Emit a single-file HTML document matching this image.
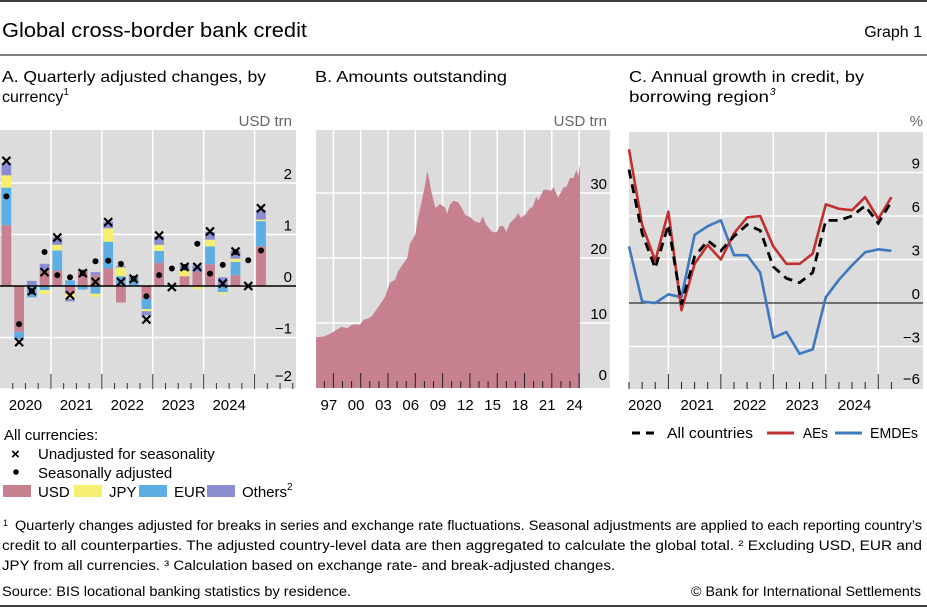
<!DOCTYPE html>
<html><head><meta charset="utf-8"><style>
html,body{margin:0;padding:0;background:#fff;}
svg{display:block;font-family:"Liberation Sans",sans-serif;}
</style></head><body>
<svg id="chart" width="927" height="608" viewBox="0 0 927 608">
<line x1="0" y1="1" x2="927" y2="1" stroke="#000" stroke-width="1.5"/>
<text x="2" y="37" font-size="20" textLength="305" lengthAdjust="spacingAndGlyphs">Global cross-border bank credit</text>
<text x="922" y="37" font-size="16" text-anchor="end">Graph 1</text>
<line x1="0" y1="55" x2="927" y2="55" stroke="#000" stroke-width="1"/>
<text x="2" y="82" font-size="16" textLength="264" lengthAdjust="spacingAndGlyphs">A. Quarterly adjusted changes, by</text>
<text x="2" y="102" font-size="16">currency<tspan font-size="10" dy="-7">1</tspan></text>
<text x="315" y="82" font-size="16" textLength="192" lengthAdjust="spacingAndGlyphs">B. Amounts outstanding</text>
<text x="629" y="82" font-size="16" textLength="235" lengthAdjust="spacingAndGlyphs">C. Annual growth in credit, by</text>
<text x="629" y="102" font-size="16" textLength="140" lengthAdjust="spacingAndGlyphs">borrowing region</text>
<text x="770" y="95" font-size="10" font-style="italic">3</text>
<text x="292" y="126" font-size="15" fill="#666" text-anchor="end">USD trn</text>
<text x="607" y="126" font-size="15" fill="#666" text-anchor="end">USD trn</text>
<text x="923" y="126" font-size="15" fill="#666" text-anchor="end">%</text>
<g id="pa"></g><g id="pb"></g><g id="pc"></g>
<!-- legend A -->
<text x="4" y="440" font-size="15">All currencies:</text>
<text x="11" y="459" font-size="15" font-weight="bold">×</text>
<text x="38" y="459" font-size="15">Unadjusted for seasonality</text>
<circle cx="16" cy="472" r="2.8" fill="#000"/>
<text x="38" y="478" font-size="15">Seasonally adjusted</text>
<rect x="3" y="485" width="28" height="12" fill="#c7808f"/>
<text x="38" y="497" font-size="15">USD</text>
<rect x="74" y="485" width="28" height="12" fill="#f6ee6e"/>
<text x="109" y="497" font-size="15">JPY</text>
<rect x="139" y="485" width="28" height="12" fill="#5eaee6"/>
<text x="174" y="497" font-size="15">EUR</text>
<rect x="207" y="485" width="28" height="12" fill="#8a8ed0"/>
<text x="242" y="497" font-size="15">Others<tspan font-size="10" dy="-7">2</tspan></text>
<!-- legend C -->
<line x1="632" y1="433" x2="660" y2="433" stroke="#000" stroke-width="3" stroke-dasharray="8,6"/>
<text x="667" y="438" font-size="15" textLength="86" lengthAdjust="spacingAndGlyphs">All countries</text>
<line x1="767" y1="433" x2="794" y2="433" stroke="#c0302f" stroke-width="3"/>
<text x="803" y="438" font-size="15" textLength="25" lengthAdjust="spacingAndGlyphs">AEs</text>
<line x1="835" y1="433" x2="862" y2="433" stroke="#3e78bf" stroke-width="3"/>
<text x="870" y="438" font-size="15" textLength="48" lengthAdjust="spacingAndGlyphs">EMDEs</text>
<!-- footnotes -->
<g font-size="13.5">
<text x="3" y="526" font-size="9">1</text>
<text x="15" y="530" textLength="907" lengthAdjust="spacingAndGlyphs">Quarterly changes adjusted for breaks in series and exchange rate fluctuations. Seasonal adjustments are applied to each reporting country’s</text>
<text x="2" y="550" textLength="920" lengthAdjust="spacingAndGlyphs">credit to all counterparties. The adjusted country-level data are then aggregated to calculate the global total.    ² Excluding USD, EUR and</text>
<text x="2" y="570" textLength="613" lengthAdjust="spacingAndGlyphs">JPY from all currencies.    ³ Calculation based on exchange rate- and break-adjusted changes.</text>
</g>
<text x="2" y="596" font-size="14" textLength="349" lengthAdjust="spacingAndGlyphs">Source: BIS locational banking statistics by residence.</text>
<text x="921" y="596" font-size="14" text-anchor="end" textLength="230" lengthAdjust="spacingAndGlyphs">© Bank for International Settlements</text>
<line x1="0" y1="606" x2="927" y2="606" stroke="#000" stroke-width="1.5"/>
</svg>
<script>
// ---------- Panel A data ----------
const aQuarters = ["2020Q1","2020Q2","2020Q3","2020Q4","2021Q1","2021Q2","2021Q3","2021Q4","2022Q1","2022Q2","2022Q3","2022Q4","2023Q1","2023Q2","2023Q3","2023Q4","2024Q1","2024Q2","2024Q3","2024Q4","2025Q1"];
const aUSD    = [1.18,-0.89,-0.02,0.30,0.30,-0.15,0.28,0.21,0.34,-0.32,0.02,-0.25,0.45,0.02,0.19,0.27,0.42,0.00,0.21,0.01,0.77];
const aEUR    = [0.73,-0.12,-0.20,-0.08,0.39,0.11,-0.07,-0.15,0.52,0.19,0.12,-0.20,0.23,-0.02,0.00,0.00,0.35,-0.12,0.26,0.00,0.49];
const aJPY    = [0.24,0.00,0.00,-0.07,0.11,-0.10,0.00,-0.06,0.26,0.17,0.00,-0.04,0.12,0.00,0.11,-0.06,0.13,-0.03,0.06,0.00,0.03];
const aOthers = [0.23,-0.02,0.10,0.13,0.15,-0.05,0.04,0.06,0.13,0.03,0.04,-0.08,0.17,0.00,0.10,0.13,0.15,0.17,0.16,0.00,0.19];
const aUnadj  = [2.43,-1.09,-0.10,0.27,0.94,-0.18,0.25,0.08,1.24,0.08,0.14,-0.65,0.98,-0.02,0.37,0.37,1.06,0.05,0.67,0.00,1.51];
const aSeas   = [1.74,-0.74,-0.10,0.66,0.21,0.17,0.25,0.48,0.49,0.43,0.14,-0.20,0.21,0.34,0.37,0.82,0.24,0.41,0.66,0.50,0.69];
const aYTicks = [2,1,0,-1,-2];
const aYLabels = ["2","1","0","\u22121","\u22122"];
const aYears = ["2020","2021","2022","2023","2024"];
// ---------- Panel B data ----------
const bDates = [1996.1,1996.9,1997.6,1998.4,1998.9,1999.5,2000.0,2000.6,2000.9,2001.3,2001.8,2002.2,2002.6,2003.1,2003.7,2004.2,2004.8,2005.1,2005.7,2006.1,2006.4,2007.0,2007.3,2007.7,2008.1,2008.3,2008.5,2008.8,2009.2,2009.7,2010.3,2010.5,2010.8,2011.2,2011.7,2012.1,2012.5,2013.0,2013.6,2014.1,2014.4,2014.8,2015.4,2015.9,2016.3,2016.7,2017.0,2017.4,2018.0,2018.3,2018.6,2019.1,2019.6,2019.9,2020.3,2020.5,2021.1,2021.6,2021.9,2022.2,2022.7,2023.3,2023.6,2024.0,2024.4,2024.7,2024.9,2025.1];
const bValues = [7.8,7.9,8.3,9.0,9.4,9.2,9.7,9.8,9.7,10.5,10.7,11.0,11.8,12.8,14.1,16.2,16.7,17.9,19.2,19.9,22.2,23.6,26.2,28.7,31.4,33.4,32.3,30.0,27.7,28.3,27.7,26.8,28.2,28.8,28.6,27.7,26.6,26.3,25.6,25.4,26.4,25.1,24.1,23.9,24.9,24.9,24.0,25.4,26.2,26.9,26.2,26.7,27.7,27.8,29.5,28.8,30.5,30.5,30.3,30.9,29.3,30.9,30.9,32.3,32.3,33.6,32.6,34.4];
const bYTicks = [30,20,10,0];
const bYLabels = ["30","20","10","0"];
const bXLabels = ["97","00","03","06","09","12","15","18","21","24"];
const bXYears = [1997,2000,2003,2006,2009,2012,2015,2018,2021,2024];
// ---------- Panel C data ----------
const cQuarters = ["2020Q1","2020Q2","2020Q3","2020Q4","2021Q1","2021Q2","2021Q3","2021Q4","2022Q1","2022Q2","2022Q3","2022Q4","2023Q1","2023Q2","2023Q3","2023Q4","2024Q1","2024Q2","2024Q3","2024Q4","2025Q1"];
const cAll   = [9.2,4.8,2.4,5.4,-0.1,3.2,4.3,3.6,4.6,5.4,5.0,2.5,1.7,1.4,2.1,5.7,5.7,6.0,6.7,5.5,7.0];
const cAEs   = [10.6,5.4,2.9,6.3,-0.5,2.7,4.0,3.0,4.8,5.9,6.0,3.9,2.7,2.7,3.4,6.8,6.5,6.4,7.3,5.8,7.3];
const cEMDEs = [3.9,0.1,0.0,0.6,0.4,4.7,5.3,5.7,3.3,3.3,2.1,-2.4,-2.0,-3.5,-3.2,0.4,1.6,2.6,3.5,3.7,3.6];
const cYTicks = [9,6,3,0,-3,-6];
const cYLabels = ["9","6","3","0","\u22123","\u22126"];
const cYears = ["2020","2021","2022","2023","2024"];

const NS = "http://www.w3.org/2000/svg";
function mk(parent, tag, attrs){const e=document.createElementNS(NS,tag);for(const k in attrs)e.setAttribute(k,attrs[k]);parent.appendChild(e);return e;}

// ---- Panel A ----
(function(){
  const g=document.getElementById('pa');
  const L=0,R=296,T=130,B=389, qW=12.73;
  const yA=v=>286-v*51.5, xA=q=>L+q*qW;
  let e=mk(g,'rect',{x:L,y:T,width:R-L,height:B-T,fill:'#dcdcdc'});
  
  
  aYTicks.forEach((t,i)=>{
    if(t!==0){const l=mk(g,'line',{x1:L,x2:R,y1:yA(t),y2:yA(t),stroke:'#fff','stroke-width':1.5});
    
    }
    const ty=t===-2?yA(t)-8:yA(t)-4;
    const tx=mk(g,'text',{x:292,y:ty,'font-size':15,'text-anchor':'end'});tx.textContent=aYLabels[i];
    
    
  });
  for(let y=1;y<=5;y++){const l=mk(g,'line',{x1:xA(y*4),x2:xA(y*4),y1:T,y2:B,stroke:'#fff','stroke-width':1.5});
    
    }
  const cols=[['usd',aUSD,'#c7808f'],['eur',aEUR,'#5eaee6'],['jpy',aJPY,'#f6ee6e'],['others',aOthers,'#8a8ed0']];
  aQuarters.forEach((q,i)=>{
    let pos=0,neg=0;const x=xA(i)+1.5,w=qW-3;
    cols.forEach(([n,arr,c])=>{
      const v=arr[i]; if(v===0)return;
      let y0,y1; if(v>0){y0=pos;y1=pos+v;pos=y1;} else {y0=neg;y1=neg+v;neg=y1;}
      const r=mk(g,'rect',{x:x,y:Math.min(yA(y0),yA(y1)),width:w,height:Math.abs(yA(y0)-yA(y1)),fill:c});
      
      
    });
  });
  const z=mk(g,'line',{x1:L,x2:R,y1:yA(0),y2:yA(0),stroke:'#000','stroke-width':1.5});
  
  
  aQuarters.forEach((q,i)=>{
    const cx=xA(i+0.5);
    const d=mk(g,'circle',{cx:cx,cy:yA(aSeas[i]),r:3,fill:'#000'});
    
    
    const cy=yA(aUnadj[i]),s=4;
    const p=mk(g,'path',{d:`M${cx-s},${cy-s}L${cx+s},${cy+s}M${cx-s},${cy+s}L${cx+s},${cy-s}`,stroke:'#000','stroke-width':2.2});
    
    
  });
  for(let q=1;q<=23;q++){const maj=q%4===0;
    const t=mk(g,'line',{x1:xA(q),x2:xA(q),y1:B,y2:maj?B-15:B-6,stroke:'#333','stroke-width':1});
    
    }
  aYears.forEach((y,i)=>{const tx=mk(g,'text',{x:xA(i*4+2),y:410,'font-size':15,'text-anchor':'middle'});tx.textContent=y;
    
    });
})();

// ---- Panel B ----
(function(){
  const g=document.getElementById('pb');
  const L=316,R=610,T=130,B=388;
  const xB=yr=>360.7+(yr-2001)*9.1, yB=v=>388-v*6.5;
  let e=mk(g,'rect',{x:L,y:T,width:R-L,height:B-T,fill:'#dcdcdc'});
  
  
  bYTicks.forEach((t,i)=>{
    if(t!==0){const l=mk(g,'line',{x1:L,x2:R,y1:yB(t),y2:yB(t),stroke:'#fff','stroke-width':1.5});
    
    }
    const ty=t===0?yB(t)-8:yB(t)-4;
    const tx=mk(g,'text',{x:607,y:ty,'font-size':15,'text-anchor':'end'});tx.textContent=bYLabels[i];
    
    
  });
  bXYears.forEach(yr=>{const l=mk(g,'line',{x1:xB(yr+1),x2:xB(yr+1),y1:T,y2:B,stroke:'#fff','stroke-width':1.5});
    
    });
  let d=`M${xB(bDates[0])},${yB(0)}`;
  bDates.forEach((dt,i)=>{d+=`L${xB(dt)},${yB(bValues[i])}`;});
  d+=`L${xB(bDates[bDates.length-1])},${yB(0)}Z`;
  const a=mk(g,'path',{d:d,fill:'#c7808f'});
  
  
  for(let yr=1996;yr<=2025;yr++){const x=xB(yr);if(x<L||x>R)continue;const maj=(yr-1998)%3===0;
    const t=mk(g,'line',{x1:x,x2:x,y1:B,y2:maj?B-15:B-7,stroke:'#222','stroke-width':1});
    
    }
  bXLabels.forEach((lb,i)=>{const tx=mk(g,'text',{x:xB(bXYears[i]+0.5),y:410,'font-size':15,'text-anchor':'middle'});tx.textContent=lb;
    
    });
})();

// ---- Panel C ----
(function(){
  const g=document.getElementById('pc');
  const L=629,R=923,T=132,B=389,qW=13.12;
  const xC=i=>629+i*qW, yC=v=>303-v*14.5;
  let e=mk(g,'rect',{x:L,y:T,width:R-L,height:B-T,fill:'#dcdcdc'});
  
  
  cYTicks.forEach((t,i)=>{
    if(t!==0){const l=mk(g,'line',{x1:L,x2:R,y1:yC(t),y2:yC(t),stroke:'#fff','stroke-width':1.5});
    
    }
    const ty=t===-6?yC(t)-6:yC(t)-4;
    const tx=mk(g,'text',{x:920,y:ty,'font-size':15,'text-anchor':'end'});tx.textContent=cYLabels[i];
    
    
  });
  for(let k=0;k<5;k++){const x=xC(3+4*k);const l=mk(g,'line',{x1:x,x2:x,y1:T,y2:B,stroke:'#fff','stroke-width':1.5});
    
    }
  const z=mk(g,'line',{x1:L,x2:R,y1:yC(0),y2:yC(0),stroke:'#000','stroke-width':1});
  
  
  for(let i=0;i<=20;i++){const maj=(i-3)%4===0;
    const t=mk(g,'line',{x1:xC(i),x2:xC(i),y1:B,y2:maj?B-15:B-7,stroke:'#222','stroke-width':1});
    
    }
  cYears.forEach((y,k)=>{const tx=mk(g,'text',{x:xC(4*k+1.2),y:410,'font-size':15,'text-anchor':'middle'});tx.textContent=y;
    
    });
  const pts=arr=>arr.map((v,i)=>xC(i)+','+yC(v)).join(' ');
  const em=mk(g,'polyline',{points:pts(cEMDEs),fill:'none',stroke:'#3e78bf','stroke-width':2.6,'stroke-linejoin':'round'});
  
  
  const ae=mk(g,'polyline',{points:pts(cAEs),fill:'none',stroke:'#c0302f','stroke-width':2.6,'stroke-linejoin':'round'});
  
  
  const al=mk(g,'polyline',{points:pts(cAll),fill:'none',stroke:'#000','stroke-width':2.8,'stroke-dasharray':'9,6'});
  
  
})();
</script>
</body></html>
